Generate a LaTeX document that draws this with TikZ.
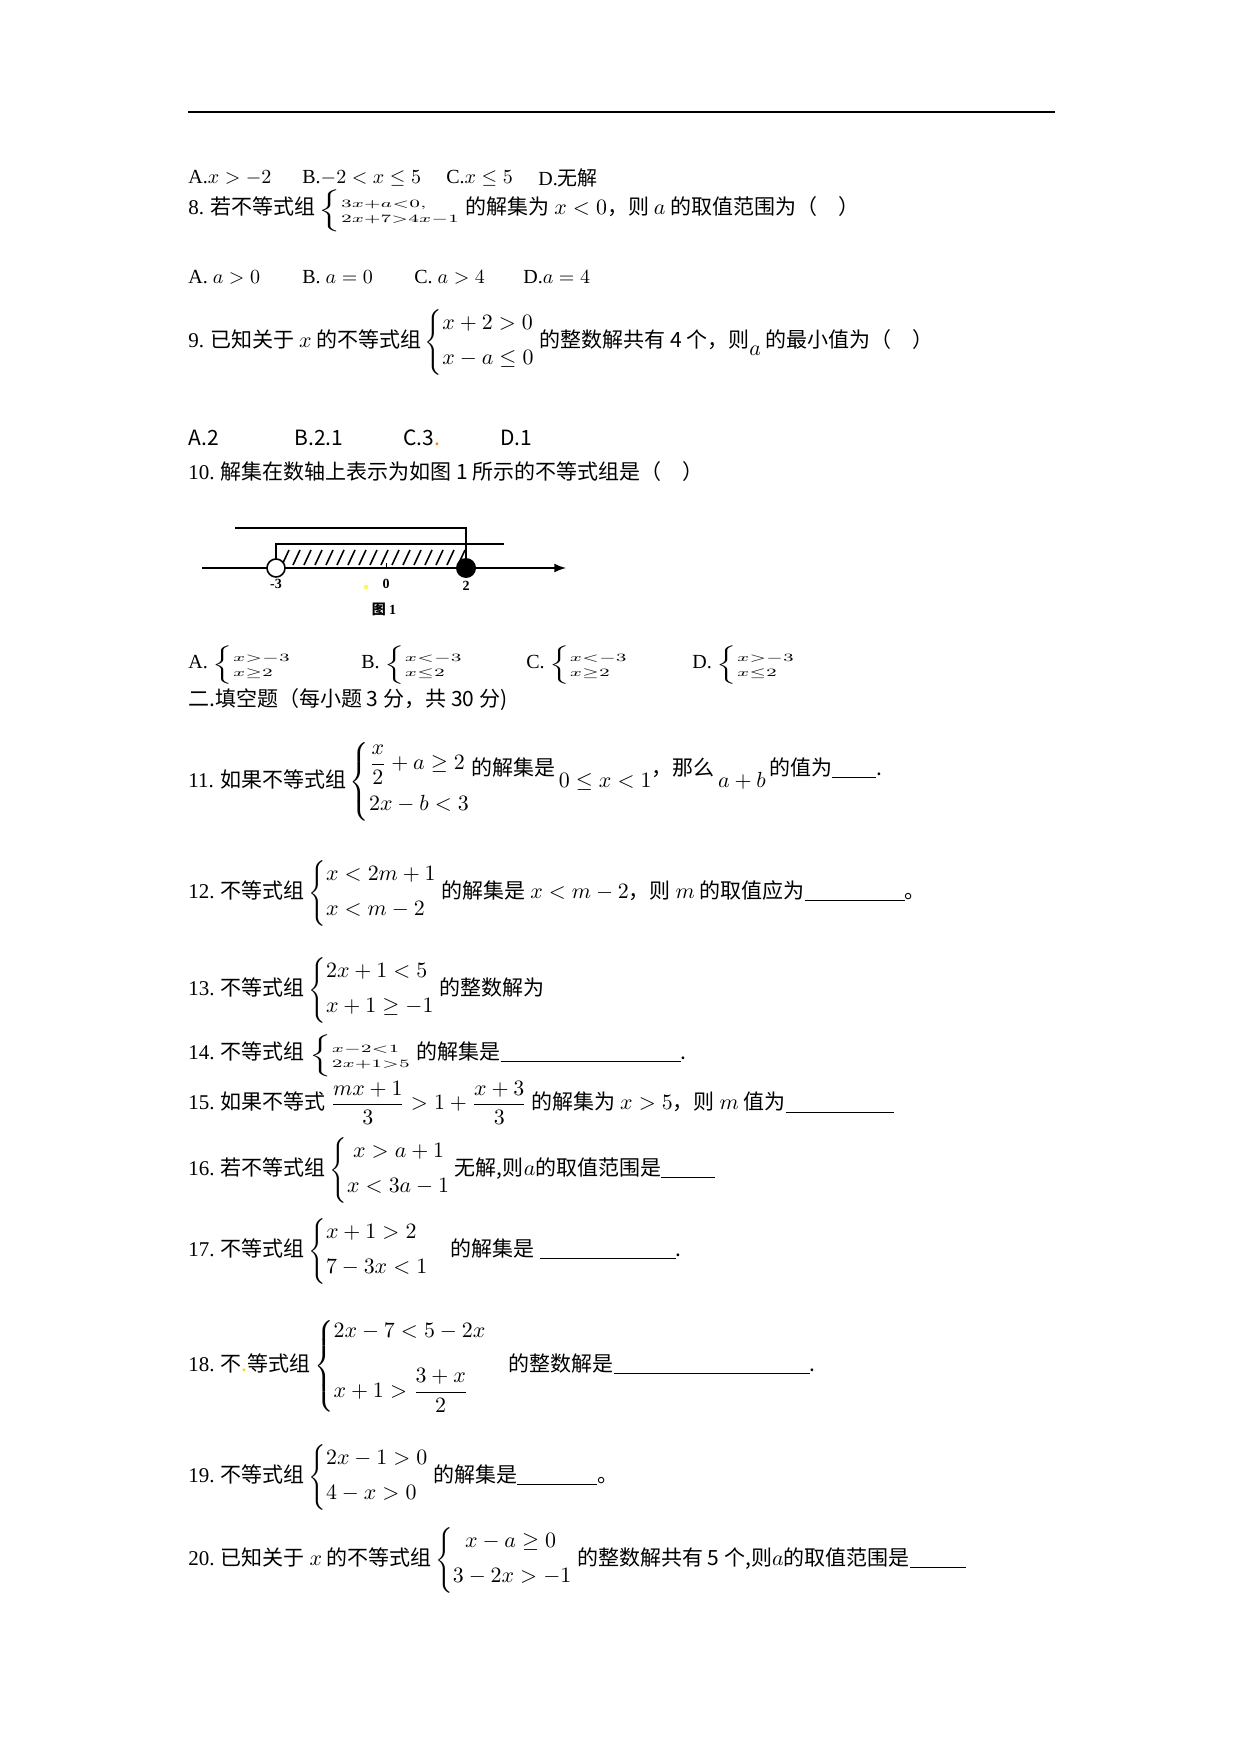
\documentclass[tikz,border=0pt]{standalone}
\usepackage{amsmath}
\usepackage{graphicx}
\usepackage{fontspec}
\setmainfont{Noto Sans CJK SC}
\newfontfamily\sr{Liberation Serif}
\newcommand\bl[1]{\rule[-1.5pt]{#1pt}{0.5pt}}
\newcommand\sys[2]{$\left\{\begin{array}{@{}l@{}}#1\\[5pt]#2\end{array}\right.$}
\newcommand\tsys[2]{\raisebox{-0.5pt}{\scalebox{1.35}[0.8]{$\left\{\begin{array}{@{}l@{}}\scriptstyle #1\\[-3pt]\scriptstyle #2\end{array}\right.$}}}
\begin{document}
\begin{tikzpicture}[x=0.5pt,y=-0.5pt,
  t/.style={anchor=west,inner sep=0pt,font=\fontsize{10.5}{12.6}\selectfont},
  s/.style={t,font=\fontsize{10}{12}\selectfont\sr},
  lbl/.style={inner sep=0pt,font=\fontsize{7}{8}\selectfont\sr\bfseries}]
\useasboundingbox (0,0) rectangle (1240,1754);
\draw[line width=0.9pt] (188,112) -- (1055,112);
% Q7 options
\node[s] (o7a) at (188,178) {A.$x>-2$};
\node[s] (o7b) at (302,178) {B.$-2<x\le5$};
\node[s] (o7c) at (446,178) {C.$x\le5$};
\node[s] (o7d) at (538,178) {D.\textrm{\fontspec{Noto Sans CJK SC}无解}};
% Q8
\node[t] (q8) at (188,211) {{\sr 8.} 若不等式组\,\tsys{3x+a<0,}{2x+7>4x-1}\,的解集为 $x<0$，则 $a$ 的取值范围为（\quad）};
\node[s] (o8a) at (188,277) {A. $a>0$};
\node[s] (o8b) at (302,277) {B. $a=0$};
\node[s] (o8c) at (414,277) {C. $a>4$};
\node[s] (o8d) at (523,277) {D.$a=4$};
% Q9
\node[t] (q9) at (188,342) {{\sr 9.} 已知关于 $x$ 的不等式组\,\sys{x+2>0}{x-a\le0}\,的整数解共有 4 个，则\raisebox{-4pt}{$a$} 的最小值为（\quad）};
\node[t] (o9) at (188,438) {A.2\hspace{38pt}B.2.1\hspace{30pt}C.3\textcolor{orange}{.}\hspace{30pt}D.1};
% Q10
\node[t] (q10) at (188,472) {{\sr 10.} 解集在数轴上表示为如图 1 所示的不等式组是（\quad）};
% figure
\draw[line width=1pt] (235,528) -- (466,528) -- (466,568);
\draw[line width=1pt] (504,544) -- (276,544) -- (276,568);
\draw[line width=1pt,-latex] (202,568) -- (566,568);
\foreach \h in {282,293,...,460} \draw[line width=0.8pt] (\h,565) -- (\h+7,550);
\draw (386,563) -- (386,568);
\node[circle,draw,fill=white,inner sep=0pt,minimum size=9pt,line width=0.8pt] (pm3) at (276,568) {};
\node[circle,fill=black,inner sep=0pt,minimum size=10pt] (p2) at (466,568) {};
\node[lbl] (l3) at (276,584) {-3};
\node[lbl] (l0) at (386,584) {0};
\node[lbl] (l2) at (466,586) {2};
\fill[yellow!60] (366,587) circle (2.5);
\node[inner sep=0pt,font=\fontsize{7}{8}\selectfont\bfseries] (fig) at (384,609) {图 {\sr 1}};
% Q10 options
\node[s] (o10a) at (188,665) {A. \tsys{x>-3}{x\ge2}};
\node[s] (o10b) at (361,665) {B. \tsys{x<-3}{x\le2}};
\node[s] (o10c) at (526,665) {C. \tsys{x<-3}{x\ge2}};
\node[s] (o10d) at (692,665) {D. \tsys{x>-3}{x\le2}};
\node[t] (sec2) at (188,700) {二.填空题（每小题 3 分，共 30 分)};
% Q11
\node[t] (q11) at (188,782) {{\sr 11.} 如果不等式组\,$\left\{\begin{array}{@{}l@{}}\dfrac{x}{2}+a\ge2\\[8pt]2x-b<3\end{array}\right.$\raisebox{6pt}{的解集是}\,$0\le x<1$\raisebox{6pt}{，那么}\,$a+b$\,\raisebox{6pt}{的值为\bl{22}.}};
% Q12
\node[t] (q12) at (188,893) {{\sr 12.} 不等式组\,\sys{x<2m+1}{x<m-2}\,的解集是 $x<m-2$，则 $m$ 的取值应为\bl{50}。};
% Q13
\node[t] (q13) at (188,990) {{\sr 13.} 不等式组\,\sys{2x+1<5}{x+1\ge-1}\,的整数解为};
% Q14
\node[t] (q14) at (188,1056) {{\sr 14.} 不等式组 \tsys{x-2<1}{2x+1>5}\,的解集是\bl{90}.};
% Q15
\node[t] (q15) at (188,1103) {{\sr 15.} 如果不等式 $\dfrac{mx+1}{3}>1+\dfrac{x+3}{3}$ 的解集为 $x>5$，则 $m$ 值为\bl{54}};
% Q16
\node[t] (q16) at (188,1170) {{\sr 16.} 若不等式组\,\sys{\;x>a+1}{x<3a-1}\,无解,则$a$的取值范围是\bl{27}};
% Q17
\node[t] (q17) at (188,1251) {{\sr 17.} 不等式组\,\sys{x+1>2}{7-3x<1}\quad 的解集是 \bl{68}.};
% Q18
\node[t] (q18) at (188,1366) {{\sr 18.} 不\textcolor{yellow!70!orange}{.}等式组\,$\left\{\begin{array}{@{}l@{}}2x-7<5-2x\\[12pt]x+1>\dfrac{3+x}{2}\end{array}\right.$\quad 的整数解是\bl{98}.};
% Q19
\node[t] (q19) at (188,1477) {{\sr 19.} 不等式组\,\sys{2x-1>0}{4-x>0}\,的解集是\bl{40}。};
% Q20
\node[t] (q20) at (188,1560) {{\sr 20.} 已知关于 $x$ 的不等式组\,\sys{\;\;x-a\ge0}{3-2x>-1}\,的整数解共有 5 个,则$a$的取值范围是\bl{28}};
\end{tikzpicture}
\end{document}
